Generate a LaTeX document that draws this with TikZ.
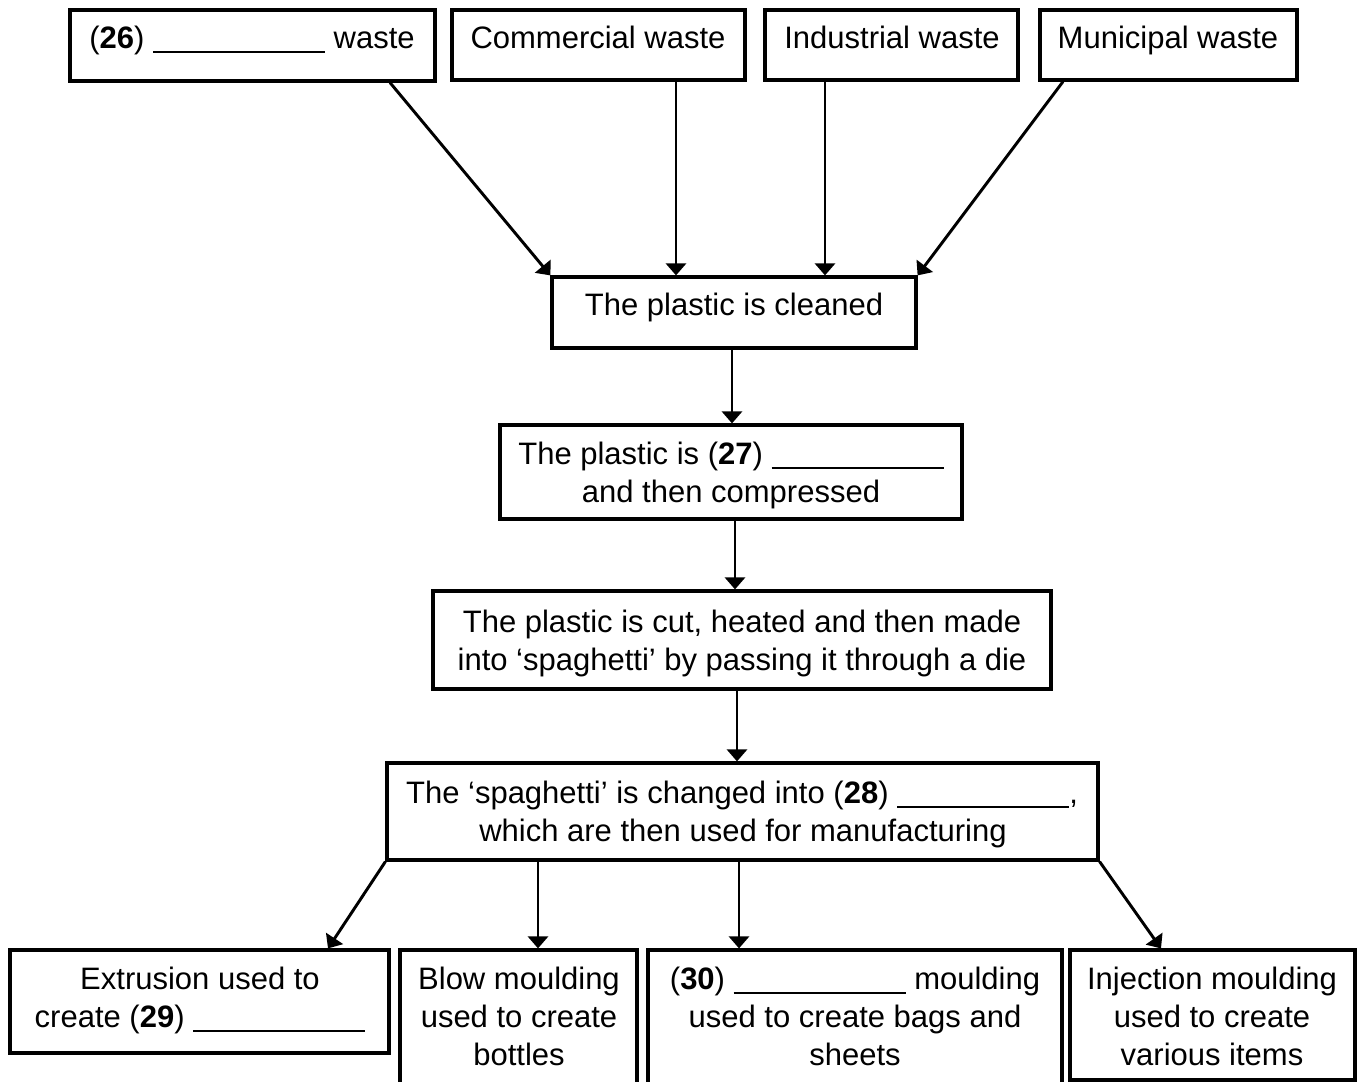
\documentclass[tikz,border=0pt]{standalone}
\usepackage{fontspec}
\setmainfont{Liberation Sans}
\usetikzlibrary{arrows.meta,fit}
\newcommand{\blankline}{\rule[-4pt]{129pt}{1.6pt}}
\begin{document}
\begin{tikzpicture}[x=0.75pt,y=-0.75pt,
  box/.style={draw, line width=2.4pt, inner sep=0pt},
  txt/.style={anchor=base, inner sep=0pt, font=\fontsize{23.25pt}{28.5pt}\selectfont},
  arr/.style={line width=2.2pt, -{Triangle[length=9pt,width=15pt]}}]
\useasboundingbox (0,0) rectangle (1361,1082);
% boxes
\node[box, fit={(70,10) (435,81)}] (A) {};
\node[box, fit={(452,10) (745,80)}] (B) {};
\node[box, fit={(765,10) (1018,80)}] (C) {};
\node[box, fit={(1040,10) (1297,80)}] (D) {};
\node[box, fit={(552,277) (916,348)}] (E) {};
\node[box, fit={(500,425) (962,519)}] (F) {};
\node[box, fit={(433,591) (1051,689)}] (G) {};
\node[box, fit={(387,763) (1098,860)}] (H) {};
\node[box, fit={(10,950) (389,1053)}] (I) {};
\node[box, fit={(400,950) (637,1100)}] (J) {};
\node[box, fit={(648,950) (1062,1100)}] (K) {};
\node[box, fit={(1070,950) (1355,1080)}] (L) {};
% texts
\node[txt] (A1) at (252,48) {(\textbf{26}) \blankline\ waste};
\node[txt] (B1) at (598,48) {Commercial waste};
\node[txt] (C1) at (892,48) {Industrial waste};
\node[txt] (D1) at (1168,48) {Municipal waste};
\node[txt] (E1) at (734,315) {The plastic is cleaned};
\node[txt] (F1) at (731,464) {The plastic is (\textbf{27}) \blankline};
\node[txt] (F2) at (731,502) {and then compressed};
\node[txt] (G1) at (742,632) {The plastic is cut, heated and then made};
\node[txt] (G2) at (742,670) {into ‘spaghetti’ by passing it through a die};
\node[txt] (H1) at (742,803) {The ‘spaghetti’ is changed into (\textbf{28}) \blankline,};
\node[txt] (H2) at (743,841) {which are then used for manufacturing};
\node[txt] (I1) at (200,989) {Extrusion used to};
\node[txt] (I2) at (200,1027) {create (\textbf{29}) \blankline};
\node[txt] (J1) at (519,989) {Blow moulding};
\node[txt] (J2) at (519,1027) {used to create};
\node[txt] (J3) at (519,1065) {bottles};
\node[txt] (K1) at (855,989) {(\textbf{30}) \blankline\ moulding};
\node[txt] (K2) at (855,1027) {used to create bags and};
\node[txt] (K3) at (855,1065) {sheets};
\node[txt] (L1) at (1212,989) {Injection moulding};
\node[txt] (L2) at (1212,1027) {used to create};
\node[txt] (L3) at (1212,1065) {various items};
% x positions for connectors
\coordinate (xa) at (390,0);
\coordinate (xb) at (676,0);
\coordinate (xc) at (825,0);
\coordinate (xd) at (1063,0);
\coordinate (xe) at (732,0);
\coordinate (xf) at (735,0);
\coordinate (xg) at (737,0);
\coordinate (xi) at (328,0);
\coordinate (xj) at (538,0);
\coordinate (xk) at (739,0);
\coordinate (xl) at (1161,0);
% connectors
\draw[arr] (A.south -| xa) -- (E.north west);
\draw[arr] (B.south -| xb) -- (E.north -| xb);
\draw[arr] (C.south -| xc) -- (E.north -| xc);
\draw[arr] (D.south -| xd) -- (E.north east);
\draw[arr] (E.south -| xe) -- (F.north -| xe);
\draw[arr] (F.south -| xf) -- (G.north -| xf);
\draw[arr] (G.south -| xg) -- (H.north -| xg);
\draw[arr] (H.south west) -- (I.north -| xi);
\draw[arr] (H.south -| xj) -- (J.north -| xj);
\draw[arr] (H.south -| xk) -- (K.north -| xk);
\draw[arr] (H.south east) -- (L.north -| xl);
\end{tikzpicture}
\end{document}
